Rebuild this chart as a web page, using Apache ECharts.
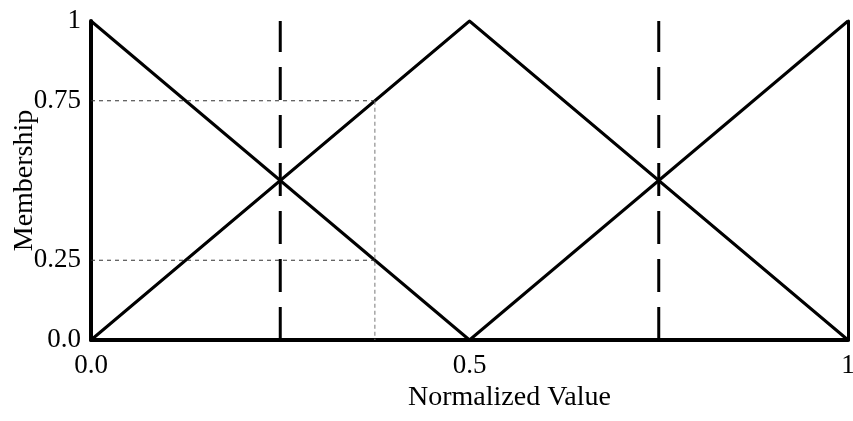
<!DOCTYPE html>
<html>
<head>
<meta charset="utf-8">
<script src="https://cdn.jsdelivr.net/npm/echarts@6/dist/echarts.min.js"></script>
<style>
  html, body { margin: 0; padding: 0; background: #fff; }
  #chart { width: 853px; height: 421px; }
</style>
</head>
<body>
<div id="chart"></div>
<script>
// membership functions (x = normalized value, y = membership)
const lowX = [0, 0.5];
const lowY = [1, 0];
const midX = [0, 0.5, 1];
const midY = [0, 1, 0];
const highX = [0.5, 1];
const highY = [0, 1];
// dashed centre lines
const centreX = [0.25, 0.75];
// example reading at x = 0.375
const sampleX = 0.375;
const sampleHigh = 0.75;
const sampleLow = 0.25;
// tick labels
const yTickLabels = { 0: '0.0', 0.25: '0.25', 0.75: '0.75', 1: '1' };
const xTickLabels = { 0: '0.0', 0.5: '0.5', 1: '1' };

const font = 'Liberation Serif';
const pairs = (xs, ys) => xs.map((x, i) => [x, ys[i]]);

const triStyle = { color: '#000', width: 3, join: 'miter', miterLimit: 10 };

let chart = echarts.init(document.getElementById('chart'));
let option = {
  animation: false,
  backgroundColor: '#fff',
  grid: { left: 91, right: 5, top: 21, bottom: 81, containLabel: false, outerBoundsMode: 'none' },
  xAxis: {
    type: 'value',
    min: 0,
    max: 1,
    interval: 0.5,
    name: 'Normalized Value',
    nameLocation: 'middle',
    nameGap: 36,
    nameTextStyle: { fontFamily: font, fontSize: 28, color: '#000', padding: [0, 0, 0, 80] },
    axisLine: { lineStyle: { color: '#000', width: 4 } },
    axisTick: { show: false },
    splitLine: { show: false },
    axisLabel: {
      margin: 12,
      fontFamily: font,
      fontSize: 27,
      color: '#000',
      formatter: v => xTickLabels[v] !== undefined ? xTickLabels[v] : ''
    }
  },
  yAxis: [{
    type: 'value',
    min: 0,
    max: 1,
    interval: 0.25,
    name: 'Membership',
    nameLocation: 'middle',
    nameGap: 52,
    nameMoveOverlap: false,
    nameTextStyle: { fontFamily: font, fontSize: 28, color: '#000' },
    axisLine: { show: true, lineStyle: { color: '#000', width: 4 } },
    axisTick: { show: false },
    splitLine: { show: false },
    axisLabel: {
      margin: 10,
      fontFamily: font,
      fontSize: 27,
      color: '#000',
      formatter: v => yTickLabels[v] !== undefined ? yTickLabels[v] : ''
    }
  }, {
    type: 'value',
    min: 0,
    max: 1,
    position: 'right',
    axisLine: { show: true, lineStyle: { color: '#000', width: 3 } },
    axisTick: { show: false },
    axisLabel: { show: false },
    splitLine: { show: false }
  }],
  series: [
    { type: 'line', data: pairs(lowX, lowY), symbol: 'none', lineStyle: triStyle },
    { type: 'line', data: pairs(midX, midY), symbol: 'none', lineStyle: triStyle },
    { type: 'line', data: pairs(highX, highY), symbol: 'none', lineStyle: triStyle }
  ]
    .concat(centreX.map(cx => ({
      type: 'line',
      data: [[cx, 0], [cx, 1]],
      symbol: 'none',
      lineStyle: { color: '#000', width: 3, type: [33, 15] }
    })))
    .concat([
      {
        type: 'line',
        data: [[0, sampleHigh], [sampleX, sampleHigh]],
        symbol: 'none',
        lineStyle: { color: '#333', width: 1, type: [4, 4] }
      },
      {
        type: 'line',
        data: [[0, sampleLow], [sampleX, sampleLow]],
        symbol: 'none',
        lineStyle: { color: '#333', width: 1, type: [4, 4] }
      },
      {
        type: 'line',
        data: [[sampleX, sampleHigh], [sampleX, 0]],
        symbol: 'none',
        lineStyle: { color: '#777', width: 1, type: [4, 3] }
      }
    ])
};
chart.setOption(option);
</script>
</body>
</html>
